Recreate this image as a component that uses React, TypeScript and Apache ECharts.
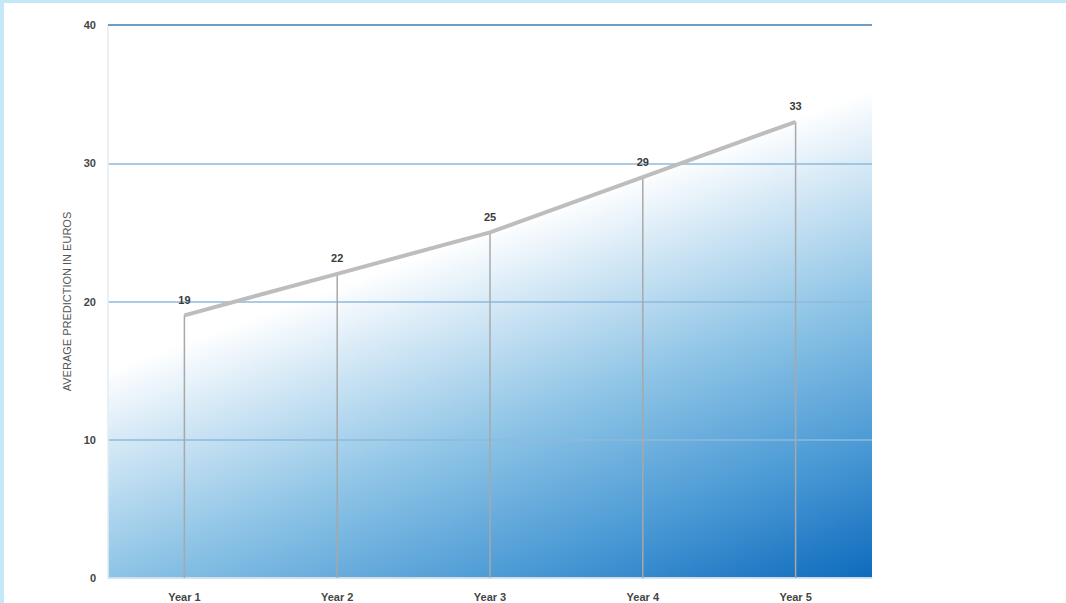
import React, { useEffect, useRef } from "react";
import * as echarts from "echarts";

const categories = ["Year 1", "Year 2", "Year 3", "Year 4", "Year 5"];
const predictions = [19, 22, 25, 29, 33];
const yTicks = [0, 10, 20, 30, 40];
const yAxisTitle = "AVERAGE PREDICTION IN EUROS";

export default function App() {
  const ref = useRef<HTMLDivElement>(null);
  useEffect(() => {
    if (!ref.current) return;
    const chart = echarts.init(ref.current, undefined, { renderer: "svg" });
    const bg = new echarts.graphic.LinearGradient(
      490, 230, 648, 660,
      [
        { offset: 0, color: "#ffffff" },
        { offset: 0.15, color: "#d6e9f6" },
        { offset: 0.42, color: "#8ec4e6" },
        { offset: 0.72, color: "#4b9ad5" },
        { offset: 1, color: "#0f6bbd" },
      ],
      true
    );
    chart.setOption({
      animation: false,
      backgroundColor: "#ffffff",
      grid: {
        left: 108,
        top: 25,
        width: 764,
        height: 553,
        show: true,
        backgroundColor: bg,
        borderWidth: 0,
      },
      graphic: [
        { type: "rect", left: 0, top: 0, shape: { width: 1066, height: 3 }, style: { fill: "#c4e8f8" }, z: 10 },
        { type: "rect", left: 0, top: 0, shape: { width: 4, height: 603 }, style: { fill: "#c4e8f8" }, z: 10 },
      ],
      xAxis: {
        type: "category",
        data: categories,
        boundaryGap: true,
        axisLine: { show: true, lineStyle: { color: "#e4ecf3", width: 1.5 } },
        axisTick: { show: false },
        axisLabel: {
          margin: 13,
          color: "#454545",
          fontWeight: "bold",
          fontSize: 11,
          fontFamily: "Liberation Sans, Arial, sans-serif",
        },
        splitLine: { show: false },
      },
      yAxis: {
        type: "value",
        min: 0,
        max: 40,
        interval: 10,
        name: yAxisTitle,
        nameLocation: "middle",
        nameRotate: 90,
        nameGap: 28,
        nameTextStyle: {
          color: "#555555",
          fontSize: 11,
          fontFamily: "Liberation Sans, Arial, sans-serif",
        },
        axisLine: { show: true, lineStyle: { color: "#e2edf5", width: 1.5 } },
        axisTick: { show: false },
        axisLabel: {
          margin: 12,
          color: "#454545",
          fontWeight: "bold",
          fontSize: 11,
          fontFamily: "Liberation Sans, Arial, sans-serif",
          formatter: (v: number) => (yTicks.includes(v) ? String(v) : ""),
        },
        splitLine: {
          show: true,
          lineStyle: { color: "#8dbadd", width: 1.5 },
        },
      },
      series: [
        {
          type: "bar",
          data: predictions,
          barWidth: 1.5,
          itemStyle: { color: "#a8a8a8" },
          silent: true,
          z: 2,
          label: {
            show: true,
            position: "top",
            distance: 10,
            color: "#3a3a3a",
            fontWeight: "bold",
            fontSize: 11,
            fontFamily: "Liberation Sans, Arial, sans-serif",
          },
        },
        {
          type: "line",
          data: predictions,
          symbol: "none",
          lineStyle: { color: "#bdbdbd", width: 4 },
          z: 3,
          markLine: {
            silent: true,
            symbol: "none",
            label: { show: false },
            lineStyle: { color: "#6e9dca", width: 2, type: "solid" },
            data: [{ yAxis: 40 }],
          },
        },
      ],
    });
    return () => chart.dispose();
  }, []);
  return (
    <div
      ref={ref}
      style={{ position: "fixed", left: 0, top: 0, width: 1066, height: 603 }}
    />
  );
}
